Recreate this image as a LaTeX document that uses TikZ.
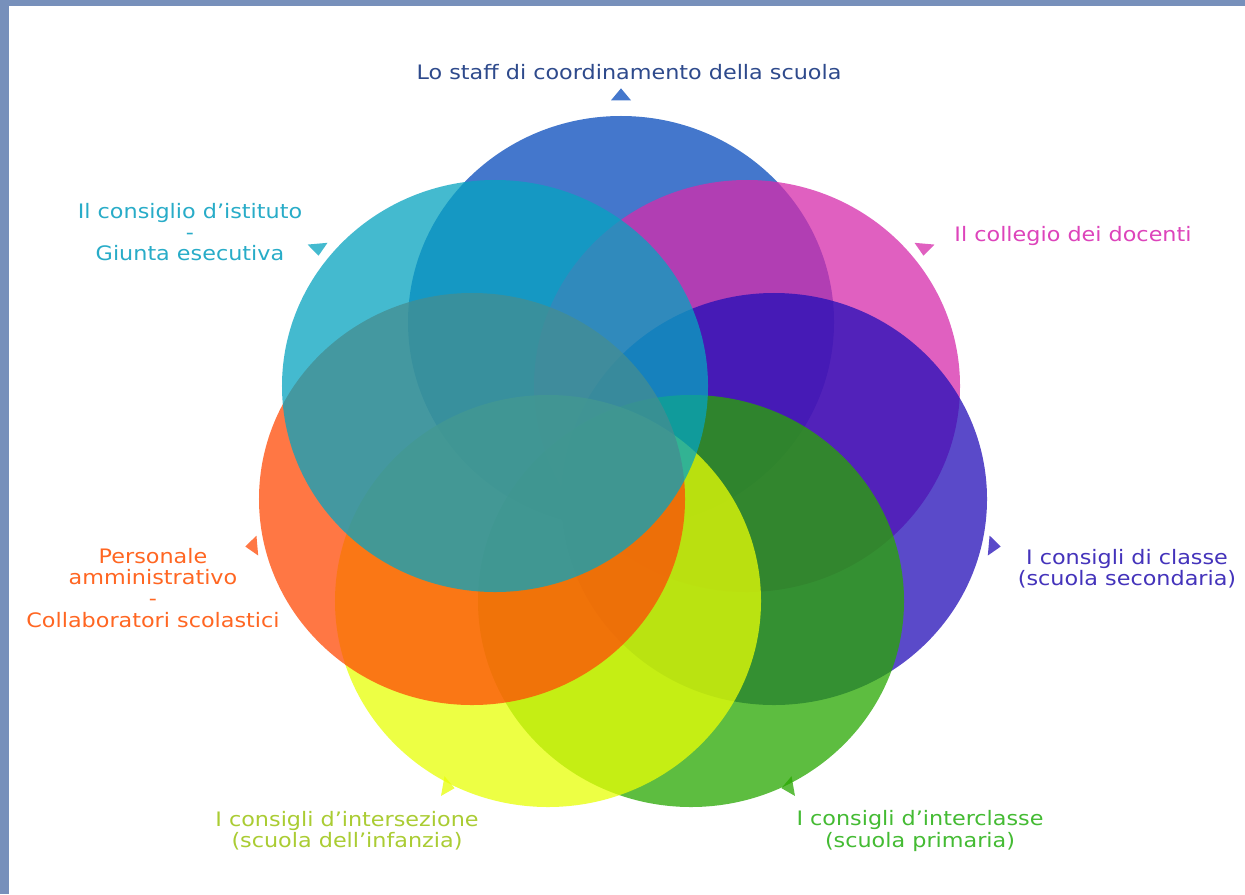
\documentclass[tikz,border=0pt]{standalone}
\usepackage{fontspec}
\setmainfont{DejaVu Sans}[FakeStretch=1.12]

% circle colours (drawn with opacity)
\definecolor{cblue}{RGB}{6,74,187}
\definecolor{cmagenta}{RGB}{214,43,171}
\definecolor{cpurple}{RGB}{35,14,184}
\definecolor{cgreen}{RGB}{40,168,0}
\definecolor{cyellow}{RGB}{232,255,6}
\definecolor{corange}{RGB}{255,74,6}
\definecolor{ccyan}{RGB}{6,164,192}
% text colours
\definecolor{tblue}{RGB}{46,74,140}
\definecolor{tcyan}{RGB}{40,172,200}
\definecolor{tmagenta}{RGB}{221,68,187}
\definecolor{tpurple}{RGB}{68,51,187}
\definecolor{torange}{RGB}{255,102,34}
\definecolor{tyellow}{RGB}{170,204,51}
\definecolor{tgreen}{RGB}{68,187,51}
\definecolor{frame}{RGB}{119,144,187}

\begin{document}
\begin{tikzpicture}[x=0.03cm, y=-0.03cm,
		ring/.style={fill opacity=0.75},
		circlabel/.style={align=center, inner sep=0pt, font=\fontsize{17}{18}\selectfont}]
	
	% Frame
	\useasboundingbox (0,0) rectangle (1245,894);
	\fill[white] (0,0) rectangle (1245,894);
	\fill[frame] (0,0) rectangle (1245,6);
	\fill[frame] (0,0) rectangle (9,894);
	
	% Circles
	\fill[ring, cblue] (621,322) ellipse [x radius=6.39cm, y radius=6.18cm];
	\fill[ring, cmagenta] (747,386) ellipse [x radius=6.39cm, y radius=6.18cm];
	\fill[ring, cpurple] (774,499) ellipse [x radius=6.39cm, y radius=6.18cm];
	\fill[ring, cgreen] (691,601) ellipse [x radius=6.39cm, y radius=6.18cm];
	\fill[ring, cyellow] (548,601) ellipse [x radius=6.39cm, y radius=6.18cm];
	\fill[ring, corange] (472,499) ellipse [x radius=6.39cm, y radius=6.18cm];
	\fill[ring, ccyan] (495,386) ellipse [x radius=6.39cm, y radius=6.18cm];
	
	% Markers
	\fill[ring, cblue, shift={(621,95)}, rotate=90] (0.2cm,0) -- (-0.16cm,0.3cm) -- (-0.16cm,-0.3cm) -- cycle;
	\fill[ring, cmagenta, shift={(924,249)}, rotate=-95] (0.2cm,0) -- (-0.16cm,0.3cm) -- (-0.16cm,-0.3cm) -- cycle;
	\fill[ring, cpurple, shift={(994,546)}, rotate=-5] (0.2cm,0) -- (-0.16cm,0.3cm) -- (-0.16cm,-0.3cm) -- cycle;
	\fill[ring, cgreen, shift={(788,787)}, rotate=190] (0.2cm,0) -- (-0.16cm,0.3cm) -- (-0.16cm,-0.3cm) -- cycle;
	\fill[ring, cyellow, shift={(448,787)}, rotate=-10] (0.2cm,0) -- (-0.16cm,0.3cm) -- (-0.16cm,-0.3cm) -- cycle;
	\fill[ring, corange, shift={(252,546)}, rotate=185] (0.2cm,0) -- (-0.16cm,0.3cm) -- (-0.16cm,-0.3cm) -- cycle;
	\fill[ring, ccyan, shift={(318,249)}, rotate=-85] (0.2cm,0) -- (-0.16cm,0.3cm) -- (-0.16cm,-0.3cm) -- cycle;
	
	% Labels
	\node[circlabel, text=tblue] (staff) at (629,72) {Lo staff di coordinamento della scuola};
	\node[circlabel, text=tcyan] (istituto) at (190,232) {Il consiglio d’istituto\\-\\Giunta esecutiva};
	\node[circlabel, text=tmagenta] (collegio) at (1073,236) {Il collegio dei docenti};
	\node[circlabel, text=tpurple] (classe) at (1127,569) {I consigli di classe\\(scuola secondaria)};
	\node[circlabel, text=torange] (personale) at (153,588) {Personale\\amministrativo\\-\\Collaboratori scolastici};
	\node[circlabel, text=tyellow] (intersezione) at (347,831) {I consigli d’intersezione\\(scuola dell’infanzia)};
	\node[circlabel, text=tgreen] (interclasse) at (920,831) {I consigli d’interclasse\\(scuola primaria)};
	
\end{tikzpicture}
\end{document}
